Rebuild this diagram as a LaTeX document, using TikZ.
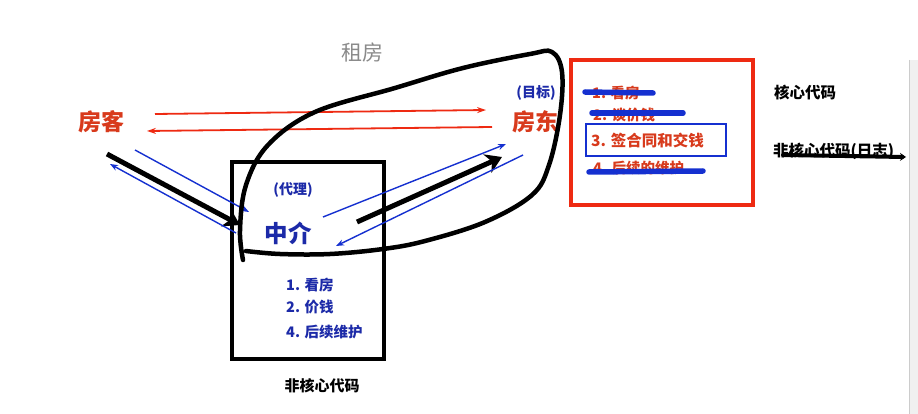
\documentclass[tikz,border=0pt]{standalone}
\usepackage{fontspec}
\setmainfont{Liberation Sans}
\newfontfamily\cjk{Noto Sans CJK SC}
\usetikzlibrary{arrows.meta}
\definecolor{rtxt}{HTML}{D83A1C}
\definecolor{rline}{HTML}{EE2A12}
\definecolor{btxt}{HTML}{1C2AA8}
\definecolor{bline}{HTML}{1530D0}
\definecolor{gtxt}{HTML}{8A8A8A}
\tikzset{
  lbl/.style={inner sep=0pt, font=\cjk},
  redarrow/.style={draw=rline, line width=1.8pt, -{Stealth[length=9pt,width=6pt]}},
  bluearrow/.style={draw=bline, line width=1.4pt, -{Stealth[length=8pt,width=6pt]}},
  bigarrow/.style={draw=black, line width=5pt, -{Stealth[length=16pt,width=20pt,inset=5pt]}},
  strike/.style={draw=bline, line width=5.5pt, line cap=round},
  framebox/.style={draw, line width=4.5pt},
}
\begin{document}
\begin{tikzpicture}[x=1pt,y=-1pt]
\path[use as bounding box, fill=white] (0,0) rectangle (918,414);

% title
\node[lbl, text=gtxt, font=\cjk\fontsize{21}{21}\selectfont] (title) at (362,52) {租房};

% left and right parties
\node[lbl, text=rtxt, font=\cjk\bfseries\fontsize{23}{23}\selectfont] (tenant) at (101,122) {房客};
\node[lbl, text=rtxt, font=\cjk\bfseries\fontsize{23}{23}\selectfont] (owner) at (535,122) {房东};
\node[lbl, text=btxt, font=\cjk\bfseries\fontsize{14}{14}\selectfont] (goal) at (536,93) {(目标)};

% agent box
\node[framebox, minimum width=152pt, minimum height=197pt, inner sep=0pt] (agentbox) at (308,260.5) {};
\node[lbl, text=btxt, font=\cjk\bfseries\fontsize{14}{14}\selectfont] (proxy) at (293,190) {(代理)};
\node[lbl, text=btxt, font=\cjk\bfseries\fontsize{23.5}{23.5}\selectfont] (agent) at (288,233) {中介};
\node[lbl, text=btxt, font=\cjk\bfseries\fontsize{14.5}{14.5}\selectfont, anchor=west] (a1) at (286,285) {1. 看房};
\node[lbl, text=btxt, font=\cjk\bfseries\fontsize{14.5}{14.5}\selectfont, anchor=west] (a2) at (286,307) {2. 价钱};
\node[lbl, text=btxt, font=\cjk\bfseries\fontsize{14.5}{14.5}\selectfont, anchor=west] (a4) at (286,332) {4. 后续维护};
\node[lbl, text=black, font=\cjk\bfseries\fontsize{15}{15}\selectfont] (noncore) at (322,386) {非核心代码};

% red box
\node[framebox, draw=rline, minimum width=182pt, minimum height=145pt, inner sep=0pt] (redbox) at (662,132.5) {};
\node[lbl, text=rtxt, font=\cjk\bfseries\fontsize{14.5}{14.5}\selectfont, anchor=west] (r1) at (592,93) {1. 看房};
\node[lbl, text=rtxt, font=\cjk\bfseries\fontsize{14.5}{14.5}\selectfont, anchor=west] (r2) at (593,115) {2. 谈价钱};
\node[draw=bline, line width=2pt, minimum width=140pt, minimum height=32pt, inner sep=0pt] (bluebox) at (656,140) {};
\node[lbl, text=rtxt, font=\cjk\bfseries\fontsize{15.5}{15.5}\selectfont, anchor=west] (r3) at (591,141) {3. 签合同和交钱};
\node[lbl, text=rtxt, font=\cjk\bfseries\fontsize{14.5}{14.5}\selectfont, anchor=west] (r4) at (593,168) {4. 后续的维护};

\coordinate (s1a) at (585,92);  \coordinate (s1b) at (653,93);
\coordinate (s2a) at (592,113); \coordinate (s2b) at (683,113);
\coordinate (s4a) at (589,172); \coordinate (s4b) at (703,171);
\draw[strike] (s1a) -- (s1b);
\draw[strike] (s2a) -- (s2b);
\draw[strike] (s4a) -- (s4b);

% right labels
\node[lbl, text=black, font=\cjk\bfseries\fontsize{15.5}{15.5}\selectfont] (core) at (805,93) {核心代码};
\node[lbl, text=black, font=\cjk\bfseries\fontsize{15.5}{15.5}\selectfont, anchor=west] (logs) at (773,151) {非核心代码(日志)};
\coordinate (l1) at (783,155); \coordinate (l2) at (906,157);
\draw[line width=4pt, line cap=round, -{Stealth[length=6pt,width=8pt]}] (l1) -- (l2);

% red arrows
\coordinate (ra1) at (155,114); \coordinate (ra2) at (486,110);
\coordinate (rb1) at (492,127); \coordinate (rb2) at (147,131);
\draw[redarrow] (ra1) -- (ra2);
\draw[redarrow] (rb1) -- (rb2);

% left arrows
\coordinate (k1) at (107,154); \coordinate (k2) at (240,225);
\draw[bigarrow] (k1) -- (k2);
\coordinate (bl1) at (135,150); \coordinate (bl2) at (249,212);
\coordinate (bl3) at (236,233); \coordinate (bl4) at (110,164);
\draw[bluearrow] (bl1) -- (bl2);
\draw[bluearrow] (bl3) -- (bl4);

% middle arrows
\coordinate (m1) at (323,217); \coordinate (m2) at (506,144);
\coordinate (m3) at (357,222); \coordinate (m4) at (502,157);
\coordinate (m5) at (523,155); \coordinate (m6) at (336,246);
\draw[bluearrow] (m1) -- (m2);
\draw[bigarrow] (m3) -- (m4);
\draw[bluearrow] (m5) -- (m6);

% freehand loop
\draw[line width=4.5pt, line cap=round, line join=round] plot[smooth, tension=0.6] coordinates {
 (243,260) (240,230) (246,185) (268,145) (315,112) (395,88) (463,68) (530,54) (552,52)
 (562,72) (560,115) (549,165) (532,195) (485,222) (425,241) (383,249) (330,254) (280,254) (246,251)};

% toolbar edge
\fill[gray!12] (909,60) rectangle (918,414);
\draw[gray!40, line width=0.6pt] (909,60) -- (909,414);
\end{tikzpicture}
\end{document}
